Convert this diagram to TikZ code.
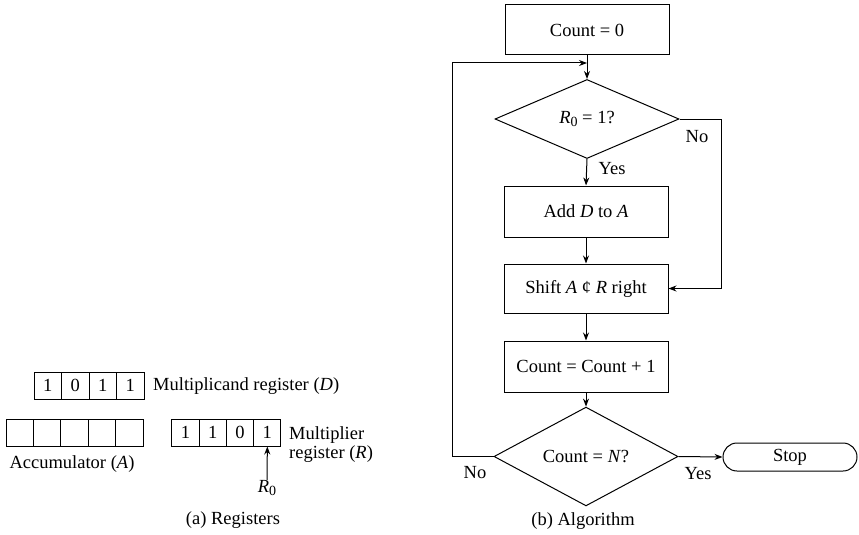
\documentclass[tikz,border=0pt]{standalone}
\usepackage{fontspec}
\setmainfont{Liberation Serif}
\usetikzlibrary{shapes.geometric,shapes.misc,arrows.meta}
\newcommand{\sub}[1]{\raisebox{-0.4ex}{\fontsize{14}{14}\selectfont #1}}
\begin{document}
\begin{tikzpicture}[x=1pt,y=-1pt,
  every node/.style={font=\fontsize{18.5}{19}\selectfont},
  ln/.style={line width=1pt},
  arr/.style={line width=1pt,-{Stealth[length=8pt,width=6pt]}},
  boxn/.style={draw,line width=1pt,minimum width=164pt,minimum height=50pt,inner sep=0pt},
  dia/.style={draw,line width=1pt,diamond,inner sep=0pt,minimum width=184pt,minimum height=79pt},
  cell/.style={draw,line width=1pt,minimum width=27.5pt,minimum height=27pt,inner sep=0pt},
  lbl/.style={inner sep=0pt}]
\useasboundingbox (0,0) rectangle (859,535);
% ---------- flowchart ----------
\node[boxn] (c0) at (587,30) {Count = 0};
\node[dia] (d1) at (587,119) {\textit{R}\sub{0} = 1?};
\node[boxn,minimum height=51pt] (add) at (586,211.5) {Add \textit{D} to \textit{A}};
\node[boxn,minimum height=49pt] (shift) at (586,288.5) {Shift \textit{A} ¢ \textit{R} right};
\node[boxn,minimum height=51pt] (cnt) at (586,366.5) {Count = Count + 1};
\node[dia] (d2) at (586,456.5) {Count = \textit{N}?};
\node[draw,line width=1pt,rounded rectangle,minimum width=134pt,minimum height=28pt,inner sep=0pt] (stop) at (790,457) {Stop};
\coordinate (jn) at (587,63);
\coordinate (lx) at (452,63);
\coordinate (nx) at (721,119);
\draw[ln] (c0.south) -- (jn);
\draw[arr] (jn) -- (d1.north);
\draw[arr] (d1.south) -- (add.north);
\draw[arr] (add.south) -- (shift.north);
\draw[arr] (shift.south) -- (cnt.north);
\draw[arr] (cnt.south) -- (d2.north);
\draw[arr] (d2.east) -- (stop.west);
\draw[arr] (d1.east) -- (nx) -- (nx |- shift.east) -- (shift.east);
\draw[arr] (d2.west) -- (d2.west -| lx) -- (lx) -- (jn);
\node[lbl] (no1) at (697,137) {No};
\node[lbl] (yes1) at (612,169) {Yes};
\node[lbl] (no2) at (475,473) {No};
\node[lbl] (yes2) at (698,474) {Yes};
\node[lbl] (capb) at (583,521) {(b) Algorithm};
% ---------- registers ----------
\foreach \i/\v in {0/1,1/0,2/1,3/1}
  \node[cell] (d\i) at (47.75+27.5*\i,385.5) {\v};
\foreach \i in {0,...,4}
  \node[cell,minimum width=27.4pt] (a\i) at (19.7+27.4*\i,432.5) {};
\foreach \i/\v in {0/1,1/1,2/0,3/1}
  \node[cell,minimum width=27.25pt] (r\i) at (185.6+27.25*\i,432.5) {\v};
\node[lbl,anchor=west] (mtxt) at (153,386) {Multiplicand register (\textit{D})};
\node[lbl] (acc) at (72,464) {Accumulator (\textit{A})};
\node[lbl,anchor=west,align=left] (mr) at (289,444.5) {Multiplier\\register (\textit{R})};
\node[lbl] (r0) at (267,488) {\textit{R}\sub{0}};
\draw[arr] (r0.north) -- (r3.south);
\node[lbl] (capa) at (233,520) {(a) Registers};
\end{tikzpicture}
\end{document}
